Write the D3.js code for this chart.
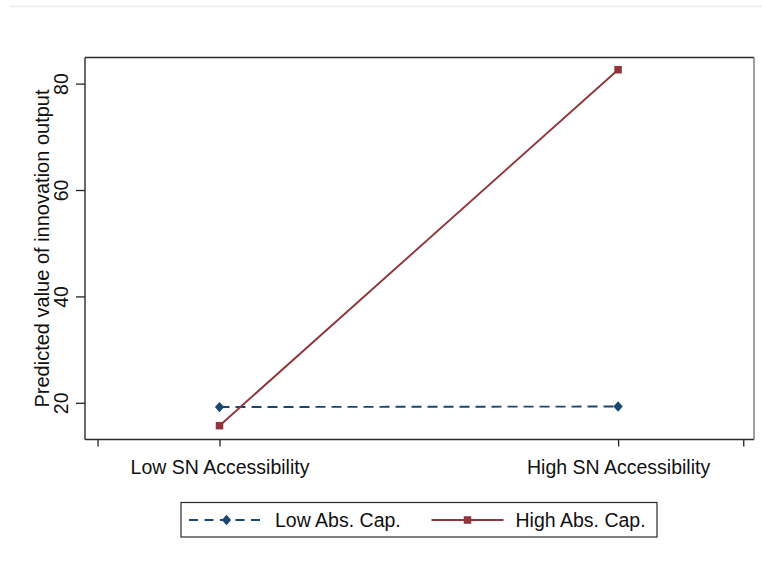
<!DOCTYPE html>
<html>
<head>
<meta charset="utf-8">
<script src="https://cdn.jsdelivr.net/npm/d3@7"></script>
<style>
  html, body { margin: 0; padding: 0; background: #ffffff; }
  svg { display: block; }
  text { font-family: "Liberation Sans", Arial, sans-serif; fill: #111; }
</style>
</head>
<body>
<script>
// Categories on the x axis (0 = low, 1 = high accessibility)
const categories = ["Low SN Accessibility", "High SN Accessibility"];
const seriesNames = ["Low Abs. Cap.", "High Abs. Cap."];
const lowAbsCap = [19.3, 19.4];
const highAbsCap = [15.8, 82.7];
const yTicks = [20, 40, 60, 80];
const yTitle = "Predicted value of innovation output";

const W = 762, H = 561;
const frame = { left: 85, right: 754, top: 57.5, bottom: 439.5 };
const navy = "#1a476f", maroon = "#90353b";
const fontSize = 19.5;

const svg = d3.select("body").append("svg").attr("width", W).attr("height", H);
svg.append("rect").attr("width", W).attr("height", H).attr("fill", "#fff");

// thin separator line along the top
svg.append("line").attr("x1", 9).attr("x2", W).attr("y1", 6.5).attr("y2", 6.5)
  .attr("stroke", "#e6eded").attr("stroke-width", 1.5);

const x = d3.scaleLinear().domain([-0.3375, 1.341]).range([frame.left, frame.right]);
const y = d3.scaleLinear().domain([13.2, 85.0]).range([frame.bottom, frame.top]);

// y axis
const yAxis = d3.axisLeft(y).tickValues(yTicks).tickSize(9).tickPadding(8);
const gy = svg.append("g").attr("transform", `translate(${frame.left},0)`).call(yAxis);
gy.select(".domain").remove();
gy.selectAll(".tick").attr("transform", null);
gy.selectAll(".tick line").attr("stroke", "#222").attr("stroke-width", 1.3)
  .each(function (d) { d3.select(this).attr("y1", y(d)).attr("y2", y(d)); });
gy.selectAll(".tick text")
  .attr("x", 0).attr("y", 0).attr("dy", 0)
  .attr("text-anchor", "middle")
  .style("font-size", fontSize + "px")
  .each(function (d) {
    d3.select(this).attr("transform", `translate(-17.5, ${y(d)}) rotate(-90)`);
  });

// y title
svg.append("text")
  .attr("transform", `translate(48.5, ${(frame.top + frame.bottom) / 2}) rotate(-90)`)
  .attr("text-anchor", "middle")
  .style("font-size", "20px")
  .text(yTitle);

// x axis: outer ticks plus category ticks
const xTickVals = [-0.306, 0, 1, 1.314];
const xAxis = d3.axisBottom(x).tickValues(xTickVals).tickSize(7).tickPadding(9)
  .tickFormat(d => d === 0 ? categories[0] : d === 1 ? categories[1] : "");
const gx = svg.append("g").attr("transform", `translate(0,${frame.bottom})`).call(xAxis);
gx.select(".domain").remove();
gx.selectAll(".tick line").attr("stroke", "#222").attr("stroke-width", 1.3);
gx.selectAll(".tick text").style("font-size", fontSize + "px").attr("dy", "0.95em");

// plot frame
const fr = svg.append("g");
fr.append("line").attr("x1", frame.left).attr("x2", frame.right).attr("y1", frame.top).attr("y2", frame.top)
  .attr("stroke", "#2a2a2a").attr("stroke-width", 1.4);
fr.append("line").attr("x1", frame.left).attr("x2", frame.right).attr("y1", frame.bottom).attr("y2", frame.bottom)
  .attr("stroke", "#2a2a2a").attr("stroke-width", 1.6);
fr.append("line").attr("x1", frame.left).attr("x2", frame.left).attr("y1", frame.top).attr("y2", frame.bottom)
  .attr("stroke", "#2a2a2a").attr("stroke-width", 1.4);
fr.append("line").attr("x1", frame.right).attr("x2", frame.right).attr("y1", frame.top).attr("y2", frame.bottom)
  .attr("stroke", "#777").attr("stroke-width", 1.4);

const line = d3.line().x((d, i) => x(i)).y(d => y(d));

// rhombus marker, slightly taller than wide
const rhombus = {
  draw(ctx, size) {
    const h = Math.sqrt(size) * 0.56, w = h * 0.9;
    ctx.moveTo(0, -h); ctx.lineTo(w, 0); ctx.lineTo(0, h); ctx.lineTo(-w, 0); ctx.closePath();
  }
};
const diamond = d3.symbol().type(rhombus).size(85);

// Low absorptive capacity: dashed navy with diamonds
svg.append("path").datum(lowAbsCap).attr("d", line)
  .attr("fill", "none").attr("stroke", navy).attr("stroke-width", 1.9)
  .attr("stroke-dasharray", "10,6");
svg.selectAll(".dmark").data(lowAbsCap).enter().append("path")
  .attr("transform", (d, i) => `translate(${x(i)},${y(d)})`)
  .attr("d", diamond).attr("fill", navy);

// High absorptive capacity: solid maroon with squares
const sq = 7.5;
svg.append("path").datum(highAbsCap).attr("d", line)
  .attr("fill", "none").attr("stroke", maroon).attr("stroke-width", 1.9);
svg.selectAll(".smark").data(highAbsCap).enter().append("rect")
  .attr("x", (d, i) => x(i) - sq / 2).attr("y", d => y(d) - sq / 2)
  .attr("width", sq).attr("height", sq).attr("fill", maroon);

// legend
const lg = svg.append("g");
lg.append("rect").attr("x", 181).attr("y", 502.5).attr("width", 476).attr("height", 34.5)
  .attr("fill", "#fff").attr("stroke", "#2a2a2a").attr("stroke-width", 1.2);
const ly = 520;
lg.append("line").attr("x1", 189).attr("x2", 261).attr("y1", ly).attr("y2", ly)
  .attr("stroke", navy).attr("stroke-width", 1.9).attr("stroke-dasharray", "9,6.5");
lg.append("path").attr("transform", `translate(226.5,${ly})`).attr("d", diamond).attr("fill", navy);
lg.append("text").attr("x", 275).attr("y", 526.5).style("font-size", fontSize + "px").text(seriesNames[0]);
lg.append("line").attr("x1", 431.5).attr("x2", 503.5).attr("y1", ly).attr("y2", ly)
  .attr("stroke", maroon).attr("stroke-width", 1.9);
lg.append("rect").attr("x", 467.5 - sq / 2).attr("y", ly - sq / 2).attr("width", sq).attr("height", sq).attr("fill", maroon);
lg.append("text").attr("x", 515.5).attr("y", 526.5).style("font-size", fontSize + "px").text(seriesNames[1]);
</script>
</body>
</html>
